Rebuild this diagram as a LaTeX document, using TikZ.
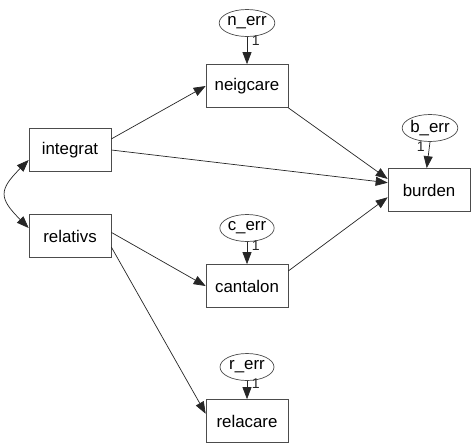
\documentclass[tikz,border=0pt]{standalone}
\usepackage{fontspec}
\setmainfont{Liberation Sans}
\usetikzlibrary{arrows.meta, shapes.geometric}

\begin{document}
\begin{tikzpicture}[x=0.02cm, y=-0.02cm,
  obs/.style={draw=black!70, rectangle, fill=white, font=\fontsize{9.6}{11}\selectfont, minimum width=1.64cm, minimum height=0.86cm, inner sep=0pt},
  err/.style={draw=black!70, ellipse, fill=white, font=\fontsize{9.6}{11}\selectfont, minimum width=1.08cm, minimum height=0.54cm, inner sep=0pt},
  one/.style={font=\fontsize{8}{9}\selectfont, inner sep=2.5pt},
  arr/.style={-{Triangle[length=2.4mm, width=1.8mm]}, black!85, line width=0.4pt},
  cov/.style={{Triangle[length=2.4mm, width=1.8mm]}-{Triangle[length=2.4mm, width=1.8mm]}, black!85, line width=0.4pt}]
\useasboundingbox (0,0) rectangle (475,443);
% observed variables
\node[obs] (integrat) at (70, 150) {integrat};
\node[obs] (relativs) at (70, 236) {relativs};
\node[obs] (neigcare) at (247, 86) {neigcare};
\node[obs] (cantalon) at (247, 286) {cantalon};
\node[obs] (relacare) at (247, 421) {relacare};
\node[obs] (burden) at (429, 190) {burden};
% error terms
\node[err] (n_err) at (247, 23) {n\_err};
\node[err] (c_err) at (247, 228) {c\_err};
\node[err] (r_err) at (247, 367) {r\_err};
\node[err] (b_err) at (430, 128) {b\_err};
% error paths
\draw[arr] (n_err) -- node[one, right, pos=0.15] {1} (neigcare);
\draw[arr] (c_err) -- node[one, right, pos=0.15] {1} (cantalon);
\draw[arr] (r_err) -- node[one, right, pos=0.15] {1} (relacare);
\draw[arr] (b_err.south) -- node[one, left, pos=0.2] {1} (burden.96);
% structural paths
\draw[arr] (integrat.15) -- (neigcare.west);
\draw[arr] (integrat.east) -- (burden.170);
\draw[arr] (relativs.5) -- (cantalon.west);
\draw[arr] (relativs.-15) -- (relacare.170);
\draw[arr] (neigcare.south east) -- (burden.165);
\draw[arr] (cantalon.20) -- (burden.190);
% covariance
\path (integrat.west) ++(0,10) coordinate (cA);
\path (relativs.west) ++(0,-8) coordinate (cB);
\draw[cov] (cA) to[out=225, in=135, looseness=1.6] (cB);
\end{tikzpicture}
\end{document}
